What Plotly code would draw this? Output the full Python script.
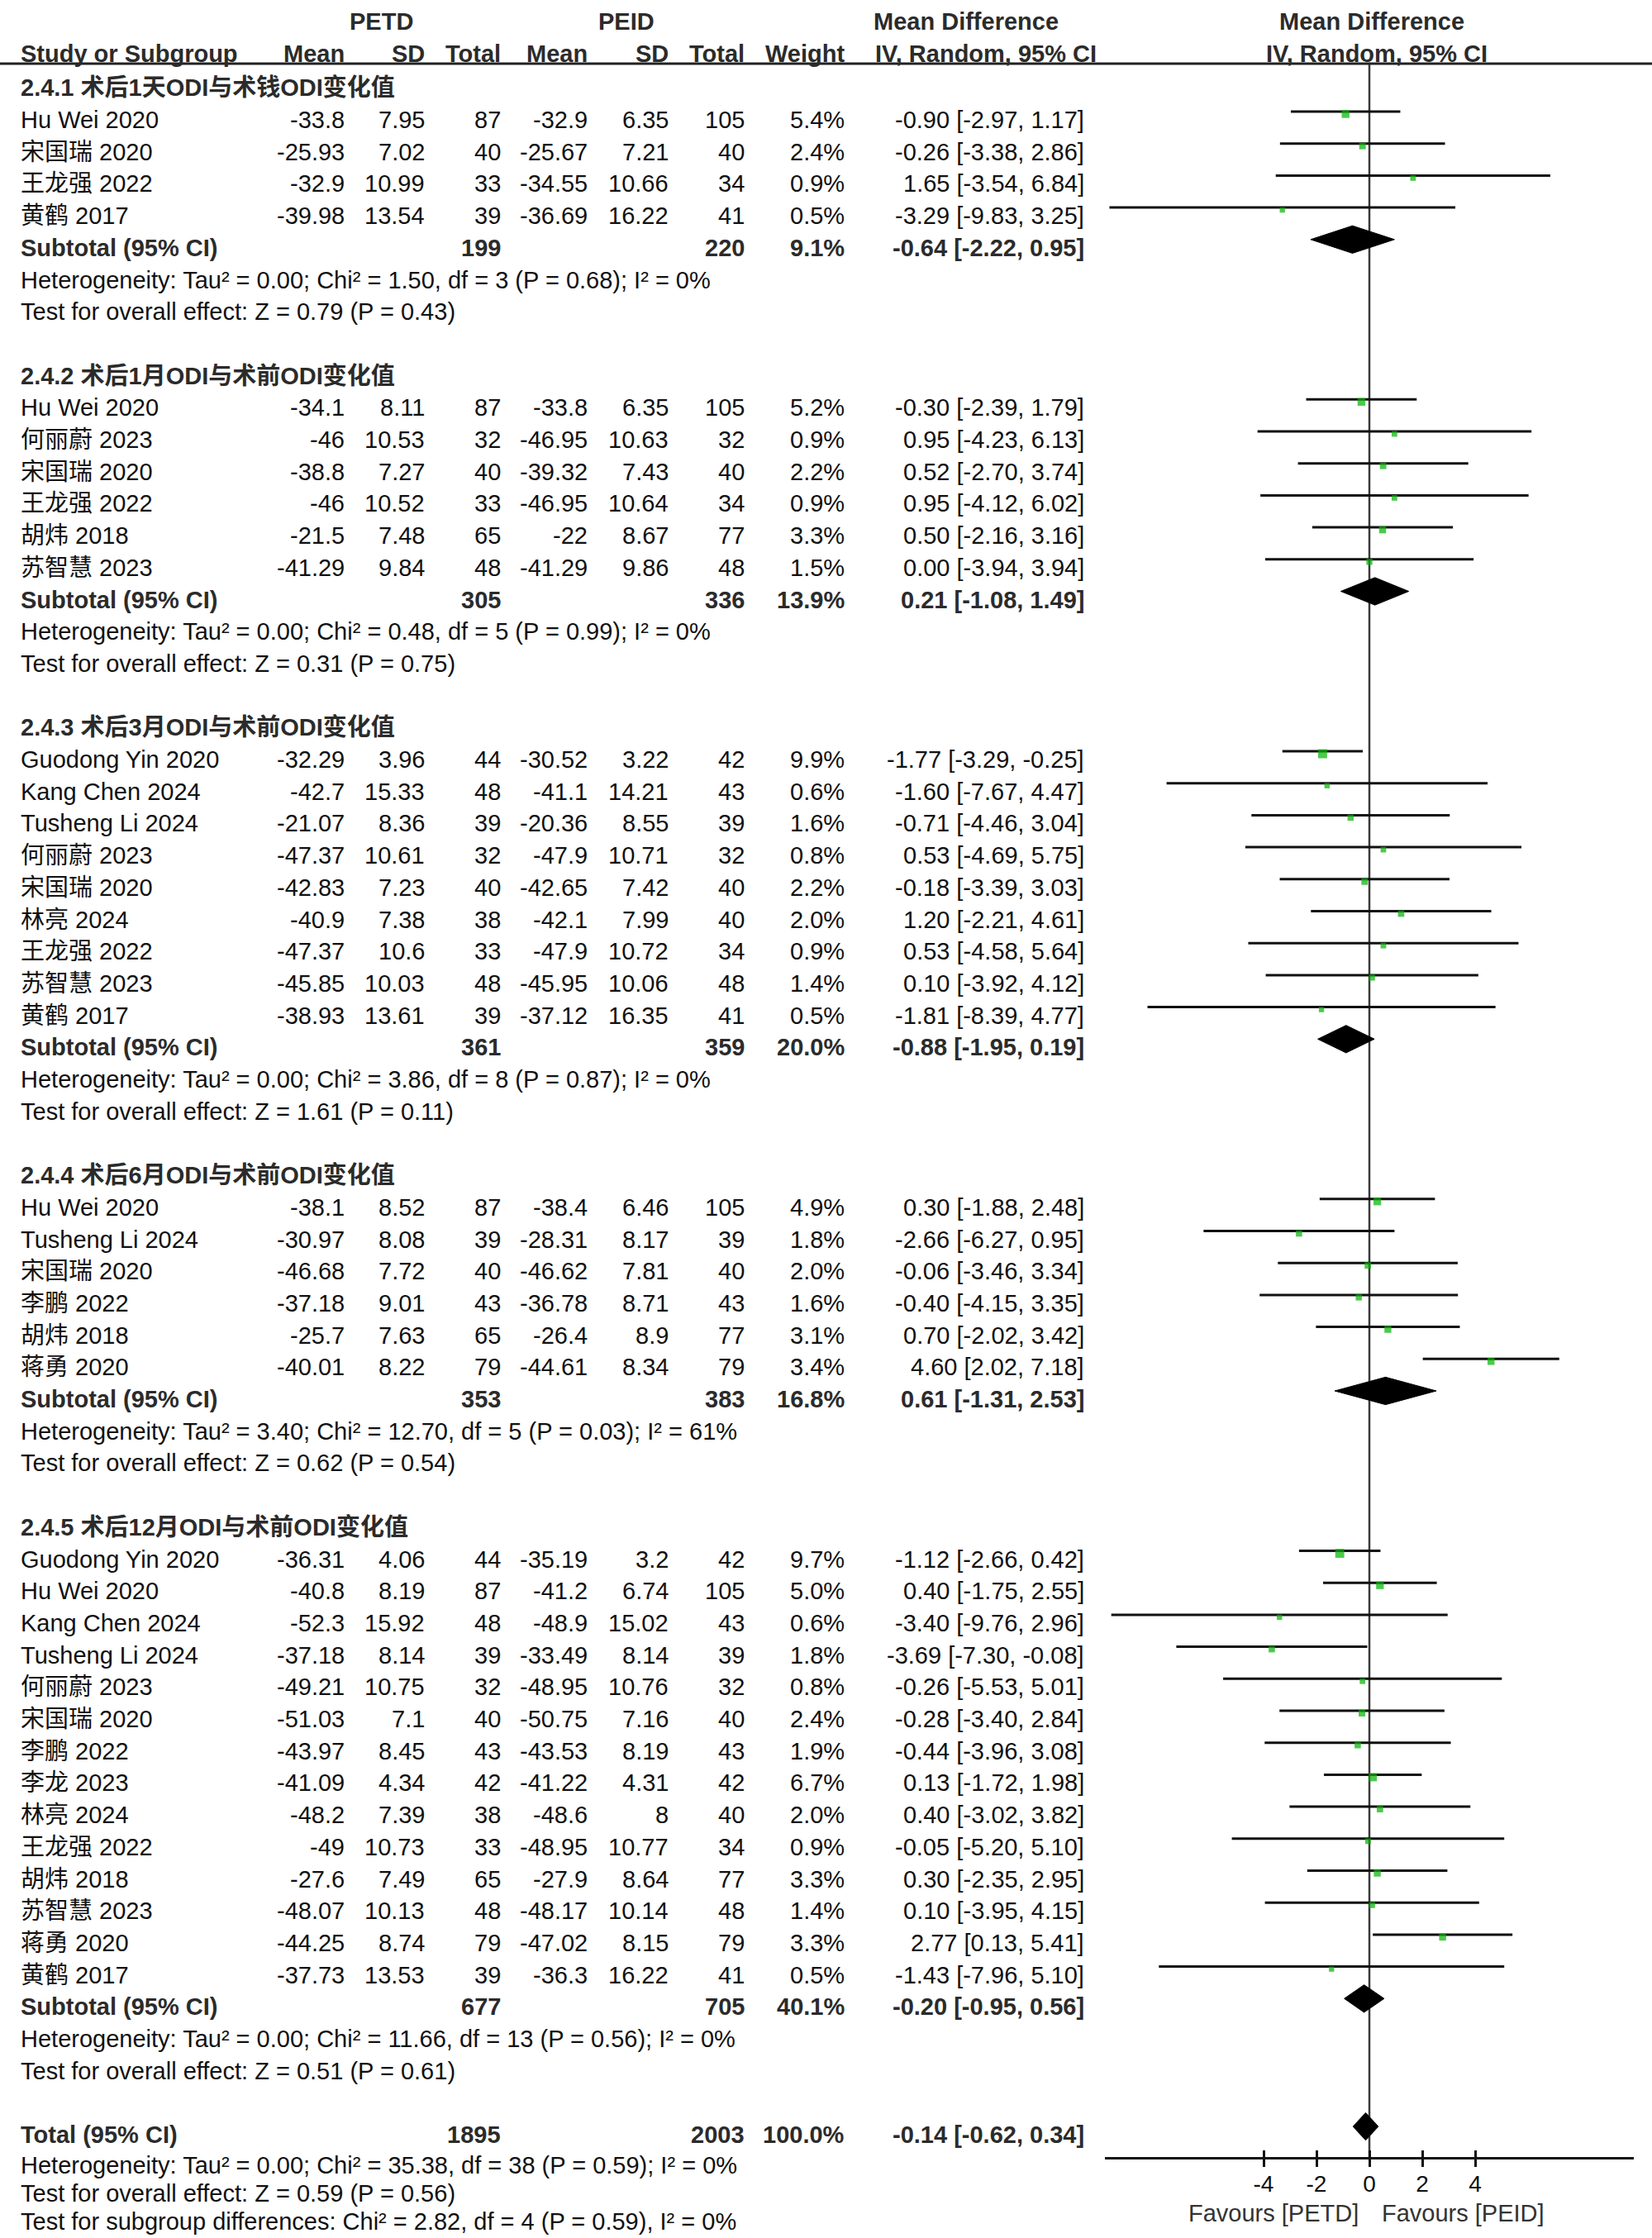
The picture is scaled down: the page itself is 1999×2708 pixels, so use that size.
import math
import plotly.graph_objects as go

# ---------------- data ----------------
study = ["Hu Wei 2020", "宋国瑞 2020", "王龙强 2022", "黄鹤 2017",
         "Hu Wei 2020", "何丽蔚 2023", "宋国瑞 2020", "王龙强 2022", "胡炜 2018", "苏智慧 2023",
         "Guodong Yin 2020", "Kang Chen 2024", "Tusheng Li 2024", "何丽蔚 2023", "宋国瑞 2020",
         "林亮 2024", "王龙强 2022", "苏智慧 2023", "黄鹤 2017",
         "Hu Wei 2020", "Tusheng Li 2024", "宋国瑞 2020", "李鹏 2022", "胡炜 2018", "蒋勇 2020",
         "Guodong Yin 2020", "Hu Wei 2020", "Kang Chen 2024", "Tusheng Li 2024", "何丽蔚 2023",
         "宋国瑞 2020", "李鹏 2022", "李龙 2023", "林亮 2024", "王龙强 2022", "胡炜 2018",
         "苏智慧 2023", "蒋勇 2020", "黄鹤 2017"]
group = [0, 0, 0, 0,
         1, 1, 1, 1, 1, 1,
         2, 2, 2, 2, 2, 2, 2, 2, 2,
         3, 3, 3, 3, 3, 3,
         4, 4, 4, 4, 4, 4, 4, 4, 4, 4, 4, 4, 4, 4]
petd_mean = [-33.8, -25.93, -32.9, -39.98,
             -34.1, -46, -38.8, -46, -21.5, -41.29,
             -32.29, -42.7, -21.07, -47.37, -42.83, -40.9, -47.37, -45.85, -38.93,
             -38.1, -30.97, -46.68, -37.18, -25.7, -40.01,
             -36.31, -40.8, -52.3, -37.18, -49.21, -51.03, -43.97, -41.09, -48.2, -49, -27.6, -48.07, -44.25, -37.73]
petd_sd = [7.95, 7.02, 10.99, 13.54,
           8.11, 10.53, 7.27, 10.52, 7.48, 9.84,
           3.96, 15.33, 8.36, 10.61, 7.23, 7.38, 10.6, 10.03, 13.61,
           8.52, 8.08, 7.72, 9.01, 7.63, 8.22,
           4.06, 8.19, 15.92, 8.14, 10.75, 7.1, 8.45, 4.34, 7.39, 10.73, 7.49, 10.13, 8.74, 13.53]
petd_n = [87, 40, 33, 39,
          87, 32, 40, 33, 65, 48,
          44, 48, 39, 32, 40, 38, 33, 48, 39,
          87, 39, 40, 43, 65, 79,
          44, 87, 48, 39, 32, 40, 43, 42, 38, 33, 65, 48, 79, 39]
peid_mean = [-32.9, -25.67, -34.55, -36.69,
             -33.8, -46.95, -39.32, -46.95, -22, -41.29,
             -30.52, -41.1, -20.36, -47.9, -42.65, -42.1, -47.9, -45.95, -37.12,
             -38.4, -28.31, -46.62, -36.78, -26.4, -44.61,
             -35.19, -41.2, -48.9, -33.49, -48.95, -50.75, -43.53, -41.22, -48.6, -48.95, -27.9, -48.17, -47.02, -36.3]
peid_sd = [6.35, 7.21, 10.66, 16.22,
           6.35, 10.63, 7.43, 10.64, 8.67, 9.86,
           3.22, 14.21, 8.55, 10.71, 7.42, 7.99, 10.72, 10.06, 16.35,
           6.46, 8.17, 7.81, 8.71, 8.9, 8.34,
           3.2, 6.74, 15.02, 8.14, 10.76, 7.16, 8.19, 4.31, 8, 10.77, 8.64, 10.14, 8.15, 16.22]
peid_n = [105, 40, 34, 41,
          105, 32, 40, 34, 77, 48,
          42, 43, 39, 32, 40, 40, 34, 48, 41,
          105, 39, 40, 43, 77, 79,
          42, 105, 43, 39, 32, 40, 43, 42, 40, 34, 77, 48, 79, 41]
weight = [5.4, 2.4, 0.9, 0.5,
          5.2, 0.9, 2.2, 0.9, 3.3, 1.5,
          9.9, 0.6, 1.6, 0.8, 2.2, 2.0, 0.9, 1.4, 0.5,
          4.9, 1.8, 2.0, 1.6, 3.1, 3.4,
          9.7, 5.0, 0.6, 1.8, 0.8, 2.4, 1.9, 6.7, 2.0, 0.9, 3.3, 1.4, 3.3, 0.5]
md = [-0.90, -0.26, 1.65, -3.29,
      -0.30, 0.95, 0.52, 0.95, 0.50, 0.00,
      -1.77, -1.60, -0.71, 0.53, -0.18, 1.20, 0.53, 0.10, -1.81,
      0.30, -2.66, -0.06, -0.40, 0.70, 4.60,
      -1.12, 0.40, -3.40, -3.69, -0.26, -0.28, -0.44, 0.13, 0.40, -0.05, 0.30, 0.10, 2.77, -1.43]
ci_lo = [-2.97, -3.38, -3.54, -9.83,
         -2.39, -4.23, -2.70, -4.12, -2.16, -3.94,
         -3.29, -7.67, -4.46, -4.69, -3.39, -2.21, -4.58, -3.92, -8.39,
         -1.88, -6.27, -3.46, -4.15, -2.02, 2.02,
         -2.66, -1.75, -9.76, -7.30, -5.53, -3.40, -3.96, -1.72, -3.02, -5.20, -2.35, -3.95, 0.13, -7.96]
ci_hi = [1.17, 2.86, 6.84, 3.25,
         1.79, 6.13, 3.74, 6.02, 3.16, 3.94,
         -0.25, 4.47, 3.04, 5.75, 3.03, 4.61, 5.64, 4.12, 4.77,
         2.48, 0.95, 3.34, 3.35, 3.42, 7.18,
         0.42, 2.55, 2.96, -0.08, 5.01, 2.84, 3.08, 1.98, 3.82, 5.10, 2.95, 4.15, 5.41, 5.10]

group_title = ["2.4.1 术后1天ODI与术钱ODI变化值",
               "2.4.2 术后1月ODI与术前ODI变化值",
               "2.4.3 术后3月ODI与术前ODI变化值",
               "2.4.4 术后6月ODI与术前ODI变化值",
               "2.4.5 术后12月ODI与术前ODI变化值"]
sub_n1 = [199, 305, 361, 353, 677]
sub_n2 = [220, 336, 359, 383, 705]
sub_w = [9.1, 13.9, 20.0, 16.8, 40.1]
sub_md = [-0.64, 0.21, -0.88, 0.61, -0.20]
sub_lo = [-2.22, -1.08, -1.95, -1.31, -0.95]
sub_hi = [0.95, 1.49, 0.19, 2.53, 0.56]
het_tau2 = ["0.00", "0.00", "0.00", "3.40", "0.00"]
het_chi2 = ["1.50", "0.48", "3.86", "12.70", "11.66"]
het_df = [3, 5, 8, 5, 13]
het_p = ["0.68", "0.99", "0.87", "0.03", "0.56"]
het_i2 = [0, 0, 0, 61, 0]
z_val = ["0.79", "0.31", "1.61", "0.62", "0.51"]
z_p = ["0.43", "0.75", "0.11", "0.54", "0.61"]

total_n1, total_n2, total_w = 1895, 2003, 100.0
total_md, total_lo, total_hi = -0.14, -0.62, 0.34
total_het = "Heterogeneity: Tau² = 0.00; Chi² = 35.38, df = 38 (P = 0.59); I² = 0%"
total_test = "Test for overall effect: Z = 0.59 (P = 0.56)"
subgroup_test = "Test for subgroup differences: Chi² = 2.82, df = 4 (P = 0.59), I² = 0%"

tick_vals = [-4, -2, 0, 2, 4]
x_range = [-10, 10]

# ---------------- layout constants ----------------
W, H = 1999, 2708
MARK0, ROWH = 18.9, 38.7          # pixel of row 0 marks, row pitch
TEXT_OFF = 10.0                   # text sits this many px below the marks
HEADLINE_PX, AXIS_PX = 77, 2611
PLOT_L, PLOT_R = 1337, 1977
FONT = "Liberation Sans, Arial, Noto Sans CJK SC, sans-serif"
FS = 29
C_TXT = "#111111"
C_BOLD = "#2b2b2b"
GREEN = "#00b400"

def row_of_px(p):
    return (p - MARK0) / ROWH

TOFF = TEXT_OFF / ROWH

X_STUDY = 24
X_M1, X_SD1, X_N1 = 418, 515, 607
X_M2, X_SD2, X_N2 = 712, 810, 902
X_W, X_CI = 1023, 1313

ann = []

def txt_at(xp, yrow, s, anchor="left", bold=False, color=None, size=FS):
    if bold:
        s = "<b>" + s + "</b>"
    ann.append(dict(x=xp / W, y=yrow, xref="paper", yref="y", text=s, showarrow=False,
                    xanchor=anchor, yanchor="middle", borderpad=0,
                    font=dict(family=FONT, size=size,
                              color=color or (C_BOLD if bold else C_TXT))))

def txt(xp, k, s, anchor="left", bold=False, color=None):
    txt_at(xp, k + TOFF, s, anchor, bold, color)

def g(v):
    return f"{v:g}"

def ci(m, lo, hi):
    return f"{m:.2f} [{lo:.2f}, {hi:.2f}]"

# headers
r0, r1 = row_of_px(26), row_of_px(65)
txt_at(461, r0, "PETD", "center", True)
txt_at(758, r0, "PEID", "center", True)
txt_at(1056, r0, "Mean Difference", "left", True)
txt_at(1660, r0, "Mean Difference", "center", True)
txt_at(X_STUDY, r1, "Study or Subgroup", "left", True)
for xp, s in [(X_M1, "Mean"), (X_SD1, "SD"), (X_N1, "Total"), (X_M2, "Mean"),
              (X_SD2, "SD"), (X_N2, "Total"), (X_W, "Weight")]:
    txt_at(xp, r1, s, "right", True)
txt_at(1058, r1, "IV, Random, 95% CI", "left", True)
txt_at(1666, r1, "IV, Random, 95% CI", "center", True)

# rows
sq_x, sq_y, sq_s = [], [], []
line_x, line_y = [], []
diamonds = []
k = 2
for gi, title in enumerate(group_title):
    txt(X_STUDY, k, title, "left", True)
    k += 1
    for i in range(len(study)):
        if group[i] != gi:
            continue
        txt(X_STUDY, k, study[i])
        txt(X_M1, k, g(petd_mean[i]), "right")
        txt(X_SD1, k, g(petd_sd[i]), "right")
        txt(X_N1, k, g(petd_n[i]), "right")
        txt(X_M2, k, g(peid_mean[i]), "right")
        txt(X_SD2, k, g(peid_sd[i]), "right")
        txt(X_N2, k, g(peid_n[i]), "right")
        txt(X_W, k, f"{weight[i]:.1f}%", "right")
        txt(X_CI, k, ci(md[i], ci_lo[i], ci_hi[i]), "right")
        line_x += [ci_lo[i], ci_hi[i], None]
        line_y += [k, k, None]
        sq_x.append(md[i]); sq_y.append(k + 3 / ROWH)
        sq_s.append(5 + 6 * math.sqrt(weight[i] / 10))
        k += 1
    txt(X_STUDY, k, "Subtotal (95% CI)", "left", True)
    txt(X_N1, k, str(sub_n1[gi]), "right", True)
    txt(X_N2, k, str(sub_n2[gi]), "right", True)
    txt(X_W, k, f"{sub_w[gi]:.1f}%", "right", True)
    txt(X_CI, k, ci(sub_md[gi], sub_lo[gi], sub_hi[gi]), "right", True)
    diamonds.append((sub_md[gi], sub_lo[gi], sub_hi[gi], k))
    k += 1
    txt(X_STUDY, k, f"Heterogeneity: Tau² = {het_tau2[gi]}; Chi² = {het_chi2[gi]}, "
                    f"df = {het_df[gi]} (P = {het_p[gi]}); I² = {het_i2[gi]}%")
    k += 1
    txt(X_STUDY, k, f"Test for overall effect: Z = {z_val[gi]} (P = {z_p[gi]})")
    k += 2

txt(X_STUDY, k, "Total (95% CI)", "left", True)
txt(X_N1, k, str(total_n1), "right", True)
txt(X_N2, k, str(total_n2), "right", True)
txt(X_W, k, f"{total_w:.1f}%", "right", True)
txt(X_CI, k, ci(total_md, total_lo, total_hi), "right", True)
diamonds.append((total_md, total_lo, total_hi, k))
# last three lines slightly tightened so the final one stays inside the canvas
txt_at(X_STUDY, row_of_px(2620), total_het)
txt_at(X_STUDY, row_of_px(2654), total_test)
txt_at(X_STUDY, row_of_px(2688), subgroup_test)

fav_row = row_of_px(2678)
txt_at(1645, fav_row, "Favours [PETD]", "right", color="#333333")
txt_at(1671, fav_row, "Favours [PEID]", "left", color="#333333")

fig = go.Figure()

# zero line
fig.add_trace(go.Scatter(x=[0, 0], y=[row_of_px(HEADLINE_PX), row_of_px(AXIS_PX)],
                         mode="lines", line=dict(color="#3a3a3a", width=2.5),
                         hoverinfo="skip", showlegend=False))
# CI lines
fig.add_trace(go.Scatter(x=line_x, y=line_y, mode="lines",
                         line=dict(color="#111111", width=3),
                         hoverinfo="skip", showlegend=False))
# squares
fig.add_trace(go.Scatter(x=sq_x, y=sq_y, mode="markers",
                         marker=dict(symbol="square", color=GREEN, size=sq_s,
                                     line=dict(width=0)),
                         hoverinfo="skip", showlegend=False))
# diamonds
for m, lo, hi, kk in diamonds:
    fig.add_trace(go.Scatter(x=[lo, m, hi, m, lo], y=[kk, kk - 0.43, kk, kk + 0.43, kk],
                             mode="lines", fill="toself", fillcolor="#000000",
                             line=dict(color="#000000", width=1),
                             hoverinfo="skip", showlegend=False))
# dummy trace for the inner tick axis
fig.add_trace(go.Scatter(x=[None], y=[None], xaxis="x2", yaxis="y",
                         showlegend=False, hoverinfo="skip"))

axis_pos = 1 - AXIS_PX / H
dom = [PLOT_L / W, PLOT_R / W]
fig.update_layout(
    width=W, height=H,
    margin=dict(l=0, r=0, t=0, b=0),
    paper_bgcolor="white", plot_bgcolor="white",
    showlegend=False,
    annotations=ann,
    xaxis=dict(domain=dom, range=x_range, anchor="free", position=axis_pos,
               showline=True, linecolor="#111111", linewidth=3,
               ticks="outside", ticklen=9, tickwidth=2.5, tickcolor="#111111",
               tickvals=tick_vals, ticktext=[str(v) for v in tick_vals],
               ticklabelstandoff=-4,
               tickfont=dict(family=FONT, size=28, color="#111111"),
               showgrid=False, zeroline=False, fixedrange=True),
    xaxis2=dict(domain=dom, range=x_range, anchor="free", position=axis_pos,
                overlaying="x", showline=False, ticks="inside", ticklen=9,
                tickwidth=2.5, tickcolor="#111111", tickvals=tick_vals,
                showticklabels=False, showgrid=False, zeroline=False),
    yaxis=dict(domain=[0, 1], range=[row_of_px(H), row_of_px(0)], visible=False,
               fixedrange=True),
    shapes=[dict(type="line", xref="paper", yref="y", x0=0, x1=1,
                 y0=row_of_px(HEADLINE_PX), y1=row_of_px(HEADLINE_PX),
                 line=dict(color="#222222", width=3))],
)

fig.write_html("out.html", config={"displayModeBar": False},
               post_script="document.body.style.margin='0';document.body.style.padding='0';")
